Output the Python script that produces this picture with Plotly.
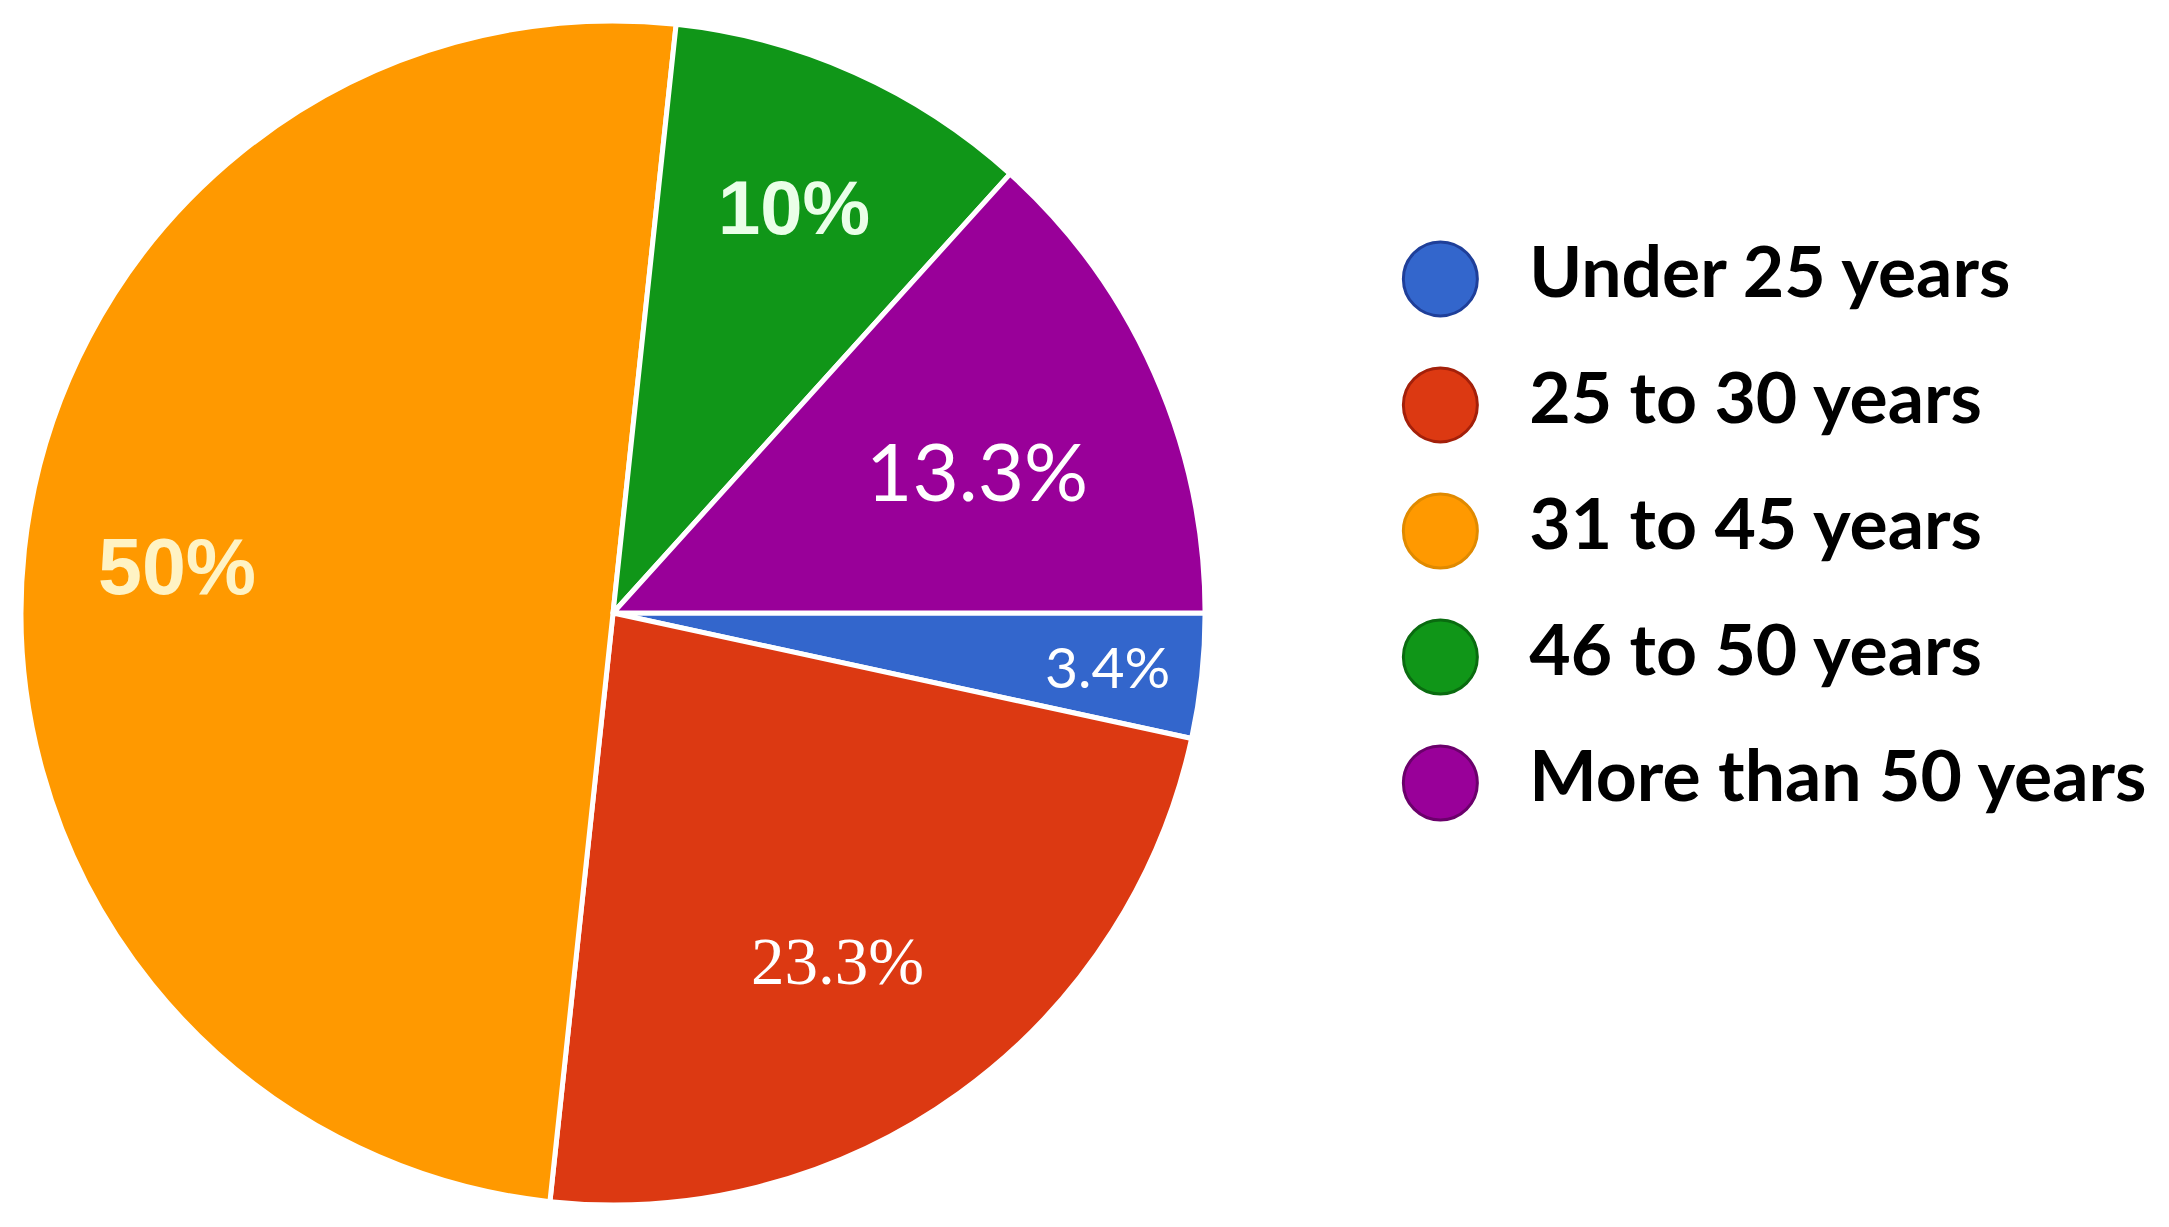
import math
import plotly.graph_objects as go

# données
labels = ["Under 25 years", "25 to 30 years", "31 to 45 years", "46 to 50 years", "More than 50 years"]
values = [3.4, 23.3, 50, 10, 13.3]
text_labels = ["3.4%", "23.3%", "50%", "10%", "13.3%"]
colors = ["#3366CC", "#DC3912", "#FF9900", "#109618", "#990099"]
edge_colors = ["#1F3F99", "#A3200A", "#E08A00", "#0A6B10", "#6B006B"]
legend_pos = [0, 1, 2, 3, 4]

# style des étiquettes (une police différente par part, comme l'original)
lab_family = ["Lato", "Liberation Serif", "Liberation Sans", "Liberation Sans", "Lato"]
lab_size = [57, 67, 79, 76, 80]
lab_color = ["white", "white", "#FFF3C4", "#EAFFE8", "white"]
lab_weight = ["normal", "normal", "bold", "bold", "normal"]
lab_radius = [0.84, 0.70, 0.74, 0.75, 0.66]  # fraction du rayon
lab_shift = [0, 3, 0, 0, 2.5]  # petit décalage angulaire (degrés)

W, H = 2169, 1227
dom_x = [0.0060, 0.5519]
dom_y = [0.0244, 0.9895]

fig = go.Figure()

# camembert
fig.add_trace(go.Pie(
    labels=labels,
    values=values,
    textinfo="none",
    sort=False,
    direction="clockwise",
    rotation=90,
    marker=dict(colors=colors, line=dict(color="white", width=5)),
    domain=dict(x=dom_x, y=dom_y),
    showlegend=False,
    hoverinfo="label+percent",
))

# étiquettes placées au milieu de chaque part
cx = (dom_x[0] + dom_x[1]) / 2 * W
cy = (1 - (dom_y[0] + dom_y[1]) / 2) * H
R = min((dom_x[1] - dom_x[0]) * W, (dom_y[1] - dom_y[0]) * H) / 2
total = sum(values)
start = 0
annotations = []
for i, v in enumerate(values):
    mid = math.radians((start + v / 2) / total * 360 + lab_shift[i])
    start += v
    px = cx + lab_radius[i] * R * math.cos(mid)
    py = cy + lab_radius[i] * R * math.sin(mid)
    annotations.append(dict(
        x=px / W, y=1 - py / H, xref="paper", yref="paper",
        text=text_labels[i], showarrow=False,
        xanchor="center", yanchor="middle",
        font=dict(family=lab_family[i], size=lab_size[i], color=lab_color[i], weight=lab_weight[i]),
    ))

# légende dessinée à la main (gros ronds)
fig.add_trace(go.Scatter(
    x=[0] * len(labels),
    y=legend_pos,
    mode="markers",
    marker=dict(size=74, color=colors, line=dict(color=edge_colors, width=3)),
    xaxis="x2", yaxis="y2",
    showlegend=False,
    hoverinfo="skip",
))
fig.add_trace(go.Scatter(
    x=[1] * len(labels),
    y=legend_pos,
    mode="text",
    text=labels,
    textposition="middle right",
    textfont=dict(family="Lato", size=71.5, color="black", weight="bold"),
    xaxis="x2", yaxis="y2",
    showlegend=False,
    hoverinfo="skip",
))

fig.update_layout(
    width=W,
    height=H,
    margin=dict(l=0, r=0, t=0, b=0),
    paper_bgcolor="white",
    plot_bgcolor="white",
    annotations=annotations,
    xaxis2=dict(domain=[0.6, 1.0], range=[-1.472, 8.28], visible=False),
    yaxis2=dict(domain=[0, 1], range=[7.588, -2.15], visible=False),
)

fig.write_html("out.html")
